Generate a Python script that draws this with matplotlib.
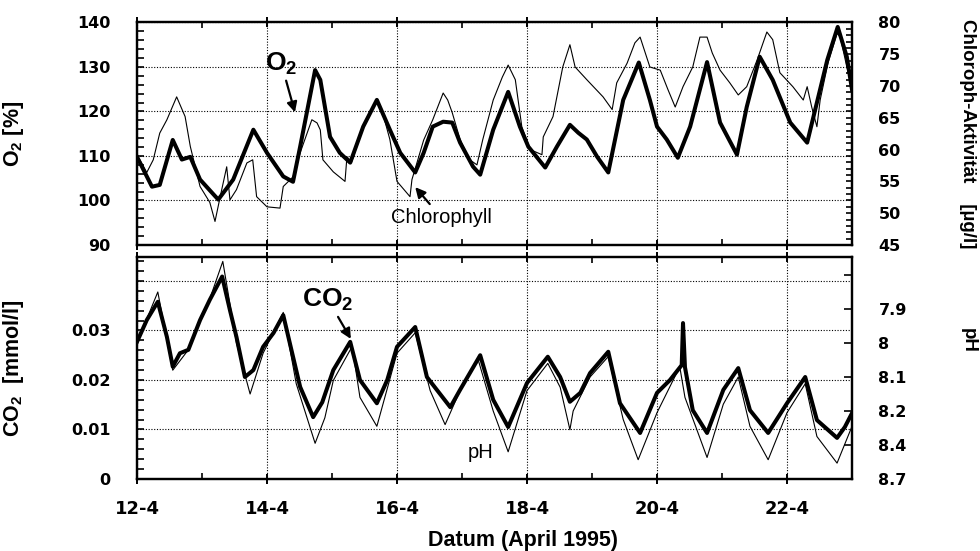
import numpy as np
import matplotlib
matplotlib.use('Agg')
import matplotlib.pyplot as plt
from matplotlib.ticker import MultipleLocator

plt.rcParams['font.family'] = ['Liberation Sans', 'DejaVu Sans']
plt.rcParams['mathtext.fontset'] = 'custom'
plt.rcParams['mathtext.rm'] = 'Liberation Sans:bold'
plt.rcParams['mathtext.bf'] = 'Liberation Sans:bold'
plt.rcParams['mathtext.default'] = 'bf'

# O2 saturation [%] (thick line, top panel, left axis)
o2_day = [12.0, 12.23, 12.35, 12.55, 12.69, 12.82, 12.97, 13.15, 13.25, 13.48, 13.79, 14.0,
          14.25, 14.4, 14.51, 14.74, 14.82, 14.97, 15.12, 15.28, 15.48, 15.69, 15.89, 16.05,
          16.28, 16.41, 16.55, 16.71, 16.85, 16.97, 17.17, 17.28, 17.48, 17.71, 17.89, 18.02,
          18.28, 18.46, 18.66, 18.79, 18.92, 19.08, 19.25, 19.48, 19.72, 19.89, 20.0, 20.15,
          20.32, 20.51, 20.77, 20.97, 21.23, 21.38, 21.58, 21.78, 22.05, 22.31, 22.62, 22.78,
          22.92, 23.0]
o2_val = [109.8, 103.1, 103.5, 113.6, 109.2, 109.8, 104.7, 101.8, 100.2, 104.7, 115.9, 110.7,
          105.4, 104.2, 112.1, 129.3, 127.1, 114.3, 110.7, 108.5, 116.6, 122.6, 115.9, 110.7,
          106.3, 110.7, 116.6, 117.7, 117.5, 113.0, 107.6, 105.8, 115.9, 124.4, 116.6, 112.1,
          107.4, 112.1, 117.0, 115.2, 113.7, 109.8, 106.3, 122.6, 131.0, 122.6, 116.6, 113.7,
          109.6, 116.6, 131.1, 117.5, 110.3, 121.0, 132.3, 127.1, 117.5, 113.0, 131.6, 139.0,
          132.3, 124.9]

# Chlorophyll activity [ug/l] (thin line, top panel, right axis)
chl_day = [12.0, 12.15, 12.25, 12.35, 12.46, 12.61, 12.74, 12.82, 12.97, 13.12, 13.2, 13.28,
           13.38, 13.43, 13.53, 13.69, 13.78, 13.84, 14.0, 14.2, 14.25, 14.4, 14.51, 14.69,
           14.77, 14.82, 14.86, 15.02, 15.2, 15.23, 15.3, 15.48, 15.69, 15.8, 15.89, 16.0,
           16.2, 16.23, 16.28, 16.41, 16.55, 16.71, 16.78, 16.85, 16.97, 17.12, 17.23, 17.32,
           17.48, 17.62, 17.71, 17.82, 17.92, 18.05, 18.23, 18.25, 18.4, 18.55, 18.66, 18.74,
           18.92, 19.17, 19.31, 19.38, 19.54, 19.66, 19.74, 19.89, 20.05, 20.17, 20.28, 20.4,
           20.55, 20.66, 20.77, 20.85, 20.97, 21.12, 21.25, 21.38, 21.54, 21.69, 21.78, 21.89,
           22.09, 22.25, 22.31, 22.38, 22.46, 22.51, 22.63, 22.77, 22.82, 22.92, 23.0]
chl_val = [59.2, 56.4, 58.4, 62.6, 64.7, 68.3, 65.2, 60.5, 54.2, 51.7, 48.7, 52.6,
           57.3, 52.1, 53.7, 57.9, 58.4, 52.6, 51.0, 50.8, 54.2, 55.7, 59.5, 64.7,
           64.2, 63.1, 58.4, 56.5, 55.0, 58.9, 58.0, 63.6, 67.8, 65.0, 61.6, 55.0,
           52.6, 55.3, 57.0, 61.5, 64.7, 68.9, 67.8, 65.8, 61.6, 58.4, 57.6, 61.6,
           67.8, 71.4, 73.3, 71.0, 63.6, 60.0, 59.2, 62.0, 65.2, 73.0, 76.5, 73.0,
           71.0, 68.3, 66.3, 70.5, 73.6, 76.8, 77.7, 73.0, 72.5, 69.4, 66.7, 69.9,
           73.0, 77.7, 77.7, 75.2, 72.5, 70.5, 68.6, 69.9, 74.1, 78.5, 77.3, 72.1,
           69.9, 67.8, 69.9, 66.7, 63.6, 67.8, 73.6, 78.3, 77.7, 73.0, 69.9]

# CO2 [mmol/l] (thick line, bottom panel, left axis)
co2_day = [12.0, 12.15, 12.32, 12.46, 12.55, 12.66, 12.79, 12.97, 13.12, 13.31, 13.43, 13.53,
           13.66, 13.79, 13.94, 14.1, 14.25, 14.35, 14.51, 14.71, 14.85, 15.02, 15.28, 15.43,
           15.69, 15.85, 16.0, 16.28, 16.46, 16.82, 16.97, 17.28, 17.48, 17.71, 18.0, 18.32,
           18.51, 18.66, 18.82, 18.97, 19.25, 19.43, 19.74, 20.0, 20.2, 20.38, 20.4, 20.43,
           20.55, 20.77, 21.02, 21.25, 21.43, 21.71, 22.0, 22.28, 22.46, 22.77, 22.89, 23.0]
co2_val = [0.0277, 0.0321, 0.0358, 0.0287, 0.0227, 0.0254, 0.0261, 0.0321, 0.0362, 0.0409,
           0.0341, 0.0287, 0.0206, 0.0220, 0.0267, 0.0295, 0.0331, 0.0275, 0.0186, 0.0125,
           0.0155, 0.0220, 0.0277, 0.0200, 0.0153, 0.0200, 0.0267, 0.0307, 0.0206, 0.0145,
           0.0180, 0.0250, 0.0160, 0.0105, 0.0194, 0.0247, 0.0206, 0.0156, 0.0174, 0.0214,
           0.0257, 0.0153, 0.0093, 0.0174, 0.0200, 0.0230, 0.0315, 0.0226, 0.0139, 0.0093,
           0.0180, 0.0224, 0.0139, 0.0093, 0.0153, 0.0206, 0.0119, 0.0083, 0.0105, 0.0133]

# pH (thin line, bottom panel, right axis)
ph_day = [12.0, 12.32, 12.55, 12.79, 12.97, 13.12, 13.32, 13.53, 13.74, 13.94, 14.25, 14.45,
          14.74, 14.89, 15.02, 15.31, 15.43, 15.69, 16.0, 16.28, 16.51, 16.74, 16.97, 17.25,
          17.48, 17.71, 18.0, 18.32, 18.51, 18.66, 18.71, 18.97, 19.25, 19.48, 19.71, 20.0,
          20.35, 20.43, 20.77, 21.02, 21.25, 21.43, 21.71, 22.0, 22.28, 22.46, 22.77, 23.0]
ph_val = [8.0, 7.85, 8.08, 8.02, 7.93, 7.87, 7.76, 8.0, 8.15, 8.03, 7.91, 8.12,
          8.39, 8.24, 8.11, 8.01, 8.16, 8.29, 8.03, 7.97, 8.14, 8.28, 8.14, 8.05,
          8.2, 8.46, 8.14, 8.06, 8.13, 8.31, 8.2, 8.1, 8.04, 8.25, 8.53, 8.21,
          8.07, 8.16, 8.51, 8.18, 8.1, 8.29, 8.53, 8.21, 8.12, 8.35, 8.56, 8.29]

day_ticks = [12, 14, 16, 18, 20, 22]
day_labels = ['12-4', '14-4', '16-4', '18-4', '20-4', '22-4']
o2_ticks = [90, 100, 110, 120, 130, 140]
chl_ticks = [45, 50, 55, 60, 65, 70, 75, 80]
co2_ticks = [0, 0.01, 0.02, 0.03, 0.04]
co2_labels = ['0', '0.01', '0.02', '0.03', '']
ph_ticks = [7.8, 7.9, 8.0, 8.1, 8.2, 8.4, 8.7]
ph_labels = ['', '7.9', '8', '8.1', '8.2', '8.4', '8.7']

# pH axis has equally spaced, non-linear labels (8.7 at the bottom)
ph_scale_ph = [7.7, 7.8, 7.9, 8.0, 8.1, 8.2, 8.4, 8.7]
ph_scale_pos = [-7, -6, -5, -4, -3, -2, -1, 0]


def ph_forward(p):
    return np.interp(p, ph_scale_ph, ph_scale_pos)


def ph_inverse(q):
    return np.interp(q, ph_scale_pos, ph_scale_ph)


tick_font = dict(fontfamily='DejaVu Sans', fontweight='bold')
lw_spine = 1.6

fig = plt.figure(figsize=(9.8, 5.51), dpi=100)
ax1 = fig.add_axes([0.1398, 0.5554, 0.7296, 0.4038])
ax3 = fig.add_axes([0.1398, 0.1307, 0.7296, 0.4029])
ax2 = ax1.twinx()
ax4 = ax3.twinx()

ax1.plot(o2_day, o2_val, color='black', lw=2.9, solid_joinstyle='round')
ax2.plot(chl_day, chl_val, color='black', lw=0.8)
ax3.plot(co2_day, co2_val, color='black', lw=2.9, solid_joinstyle='round')
ax4.set_yscale('function', functions=(ph_forward, ph_inverse))
ax4.plot(ph_day, ph_val, color='black', lw=0.8)

for ax in (ax1, ax3):
    ax.set_xlim(12, 23)
    ax.set_xticks(day_ticks)
    ax.xaxis.set_minor_locator(MultipleLocator(1))
    ax.tick_params(axis='x', which='major', direction='inout', length=7, width=1.4,
                   top=True, bottom=True, pad=11.5)
    ax.tick_params(axis='x', which='minor', direction='in', length=4, width=1.2,
                   top=True, bottom=True)
    ax.grid(True, which='major', linestyle=(0, (1, 1.5)), color='black', lw=0.8)

ax1.set_ylim(90, 140)
ax1.set_yticks(o2_ticks)
ax1.set_yticklabels([str(t) for t in o2_ticks], fontsize=11.5, **tick_font)
ax1.yaxis.set_minor_locator(MultipleLocator(2))
ax1.tick_params(axis='x', labelbottom=False)
ax1.tick_params(axis='y', which='both', direction='in', length=5, width=1.2, pad=19)

ax2.set_ylim(45, 80)
ax2.set_yticks(chl_ticks)
ax2.set_yticklabels([str(t) for t in chl_ticks], fontsize=11.5, **tick_font)
ax2.yaxis.set_minor_locator(MultipleLocator(1))
ax2.tick_params(axis='y', which='both', direction='in', length=4, width=1.2, pad=19)

ax3.set_ylim(0, 0.04485)
ax3.set_yticks(co2_ticks)
ax3.set_yticklabels(co2_labels, fontsize=11.5, **tick_font)
ax3.yaxis.set_minor_locator(MultipleLocator(0.002))
ax3.tick_params(axis='y', which='both', direction='in', length=5, width=1.2, pad=19)
ax3.set_xticklabels(day_labels, fontsize=13, **tick_font)

ax4.set_ylim(8.7, float(ph_inverse(-6.53)))
ax4.set_yticks(ph_ticks)
ax4.set_yticklabels(ph_labels, fontsize=11.5, **tick_font)
ax4.yaxis.set_minor_locator(plt.NullLocator())
ax4.tick_params(axis='y', which='both', direction='in', length=6, width=1.2, pad=19)

for ax in (ax1, ax2, ax3, ax4):
    for s in ax.spines.values():
        s.set_linewidth(lw_spine)

label_font = dict(fontsize=15.5, fontweight='bold')
ax1.set_ylabel('O$_2$ [%]', **label_font)
ax1.yaxis.set_label_coords(-0.155, 0.5)
ax3.set_ylabel('CO$_2$  [mmol/l]', **label_font)
ax3.yaxis.set_label_coords(-0.155, 0.5)
ax2.set_ylabel('Chloroph-Aktivität    [µg/l]', rotation=-90, va='center', ha='center',
               fontsize=13.5, fontweight='bold')
ax2.yaxis.set_label_coords(1.162, 0.5)
ax4.set_ylabel('pH', rotation=-90, va='center', ha='center', fontsize=13.5, fontweight='bold')
ax4.yaxis.set_label_coords(1.162, 0.626)
ax3.set_xlabel('Datum (April 1995)', va='center', **label_font)
ax3.xaxis.set_label_coords(0.54, -0.279)

arrow = dict(arrowstyle='-|>', color='black', lw=1.6, mutation_scale=15, shrinkA=1, shrinkB=0)
ax1.annotate('O$_2$', xy=(14.43, 119.8), xytext=(14.22, 130.8), ha='center', va='center',
             fontsize=19, fontweight='bold', arrowprops=arrow)
ax1.annotate('Chlorophyll', xy=(16.28, 103.0), xytext=(16.68, 96.2), ha='center', va='center',
             fontsize=14.5, arrowprops=arrow)
ax3.annotate('CO$_2$', xy=(15.29, 0.0283), xytext=(14.94, 0.0362), ha='center', va='center',
             fontsize=19, fontweight='bold', arrowprops=arrow)
ax3.text(17.28, 0.0053, 'pH', ha='center', va='center', fontsize=14.5)

fig.savefig('out.png', dpi=100)
